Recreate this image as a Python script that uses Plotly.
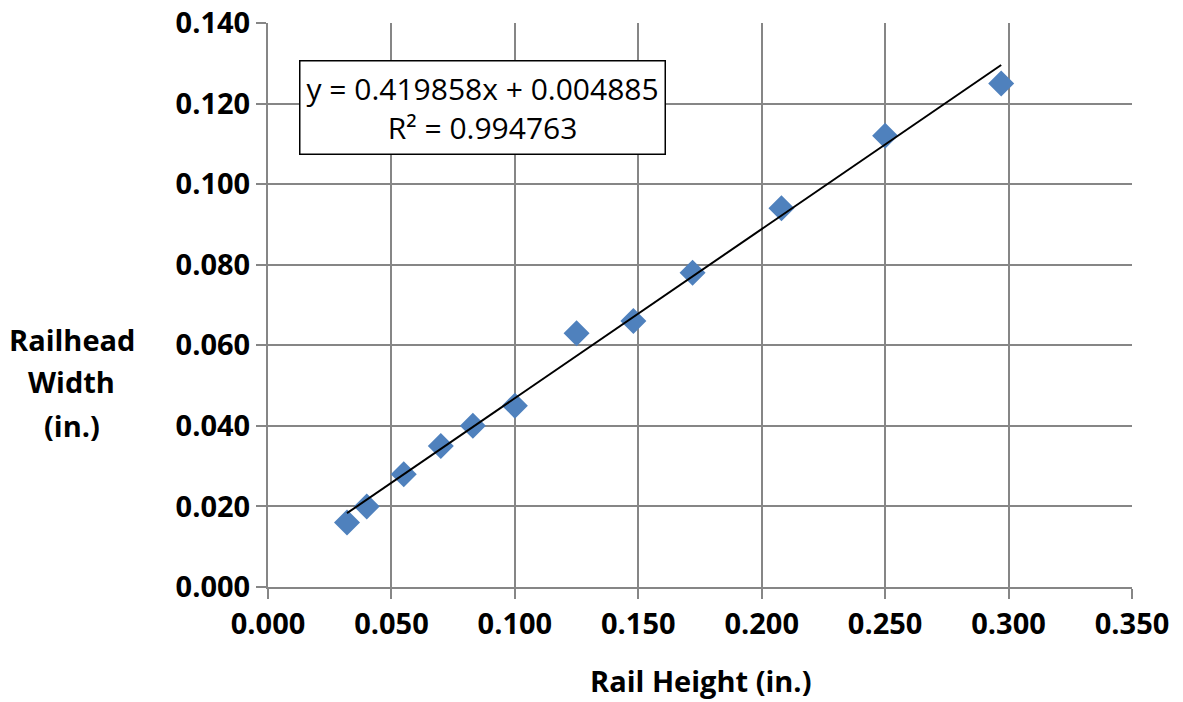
import plotly.graph_objects as go

rail_height = [0.032, 0.040, 0.055, 0.070, 0.083, 0.100, 0.125, 0.148, 0.172, 0.208, 0.250, 0.297]
railhead_width = [0.016, 0.020, 0.028, 0.035, 0.040, 0.045, 0.063, 0.066, 0.078, 0.094, 0.112, 0.125]
slope = 0.419858
intercept = 0.004885
r_squared = 0.994763
x_ticks = [0.0, 0.05, 0.1, 0.15, 0.2, 0.25, 0.3, 0.35]
y_ticks = [0.0, 0.02, 0.04, 0.06, 0.08, 0.10, 0.12, 0.14]

FONT = "Open Sans"
GRID = "#868686"

fig = go.Figure()
fig.add_trace(go.Scatter(
    x=rail_height, y=railhead_width, mode="markers",
    marker=dict(symbol="diamond", size=20, color="#4F81BD", line=dict(width=0)),
    showlegend=False, hoverinfo="skip"))
tx = [min(rail_height), max(rail_height)]
fig.add_trace(go.Scatter(
    x=tx, y=[slope * v + intercept for v in tx], mode="lines",
    line=dict(color="black", width=2), showlegend=False, hoverinfo="skip"))

axis_common = dict(
    showgrid=True, gridcolor=GRID, gridwidth=2,
    showline=True, linecolor=GRID, linewidth=2,
    ticks="outside", ticklen=10, tickwidth=2, tickcolor=GRID,
    zeroline=False, automargin=False, tickmode="array",
    tickfont=dict(family=FONT, size=29, color="black", weight="bold"),
)
fig.update_xaxes(range=[0, 0.35], tickvals=x_ticks,
                 ticktext=[f"{v:.3f}" for v in x_ticks], **axis_common)
fig.update_yaxes(range=[0, 0.14], tickvals=y_ticks,
                 ticktext=[f"{v:.3f}" for v in y_ticks], **axis_common)

fig.add_annotation(
    x=0.0867, y=0.1191, xref="x", yref="y",
    text=f"y = {slope:.6f}x + {intercept:.6f}<br>R² = {r_squared:.6f}",
    showarrow=False, xanchor="center", yanchor="middle", align="center",
    font=dict(family=FONT, size=30, color="black"),
    bordercolor="black", borderwidth=1.5, borderpad=6, bgcolor="white")

for txt, py in [("Railhead", 0.438), ("Width", 0.3635), ("(in.)", 0.287)]:
    fig.add_annotation(x=-0.2269, y=py, xref="paper", yref="paper", text=txt,
                       showarrow=False, xanchor="center", yanchor="middle",
                       font=dict(family=FONT, size=29, color="black", weight="bold"))
fig.add_annotation(x=0.5, y=-0.166, xref="paper", yref="paper", text="Rail Height (in.)",
                   showarrow=False, xanchor="center", yanchor="middle",
                   font=dict(family=FONT, size=29, color="black", weight="bold"))

fig.update_layout(
    width=1183, height=702,
    margin=dict(l=268, r=51, t=23, b=115, autoexpand=False),
    plot_bgcolor="white", paper_bgcolor="white",
)
fig.write_html("out.html", config={"displayModeBar": False},
               post_script="document.body.style.margin='0';document.body.style.overflow='hidden';")
